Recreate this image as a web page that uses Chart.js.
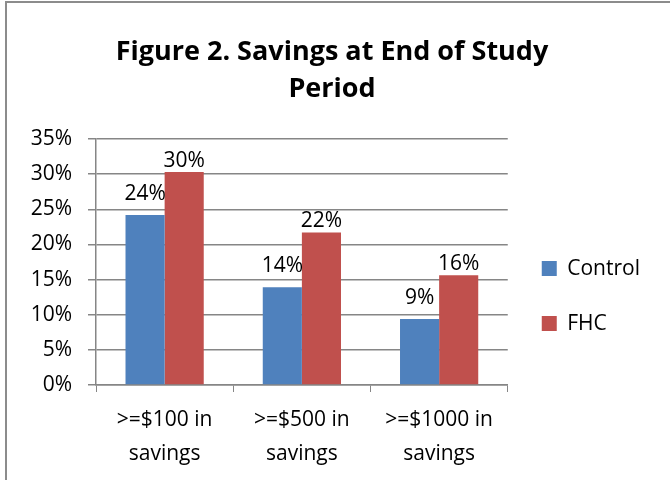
<!DOCTYPE html>
<html>
<head>
<meta charset="utf-8">
<script src="https://cdn.jsdelivr.net/npm/chart.js@4/dist/chart.umd.min.js"></script>
<style>
	html, body { margin: 0; padding: 0; background: #fff; }
	#wrap { position: relative; width: 670px; height: 480px; }
	#frame { position: absolute; left: 5px; top: 1px; width: 680px; height: 490px; border: 2px solid #8c8c8c; box-sizing: border-box; pointer-events: none; }
	canvas { position: absolute; left: 0; top: 0; }
</style>
</head>
<body>
<div id="wrap">
	<canvas id="chart" width="670" height="480"></canvas>
	<div id="frame"></div>
</div>
<script>
const categories = [[">=$100 in", "savings"], [">=$500 in", "savings"], [">=$1000 in", "savings"]];
const control = [24.2, 13.9, 9.4];
const fhc = [30.3, 21.7, 15.6];
const tickValues = [0, 5, 10, 15, 20, 25, 30, 35];

const font = "'Open Sans', sans-serif";
const gridGray = "#868686";

// draws the rounded value above each bar
const barLabels = {
	id: "barLabels",
	afterDatasetsDraw(chart) {
		const c = chart.ctx;
		c.save();
		c.font = "21px " + font;
		c.fillStyle = "#000";
		c.textAlign = "center";
		c.textBaseline = "alphabetic";
		chart.data.datasets.forEach((ds, i) => {
			const gap = i === 0 ? 15 : 5;
			chart.getDatasetMeta(i).data.forEach((bar, j) => {
				c.fillText(Math.round(ds.data[j]) + "%", bar.x, bar.y - gap);
			});
		});
		c.restore();
	}
};

new Chart(document.getElementById("chart"), {
	type: "bar",
	data: {
		labels: categories,
		datasets: [
			{ label: "Control", data: control, backgroundColor: "#4F81BD" },
			{ label: "FHC", data: fhc, backgroundColor: "#C0504D" }
		]
	},
	options: {
		responsive: false,
		animation: false,
		layout: { padding: { left: 14, right: 20, top: 8, bottom: 10 } },
		datasets: { bar: { categoryPercentage: 0.57, barPercentage: 1 } },
		plugins: {
			title: {
				display: true,
				text: ["Figure 2. Savings at End of Study", "Period"],
				color: "#000",
				font: { family: font, size: 27, weight: "bold", lineHeight: 1.37 },
				padding: { top: 26, bottom: 31 }
			},
			legend: {
				position: "right",
				title: { display: true, text: " ", font: { size: 1 }, padding: { top: 113, bottom: 0 } },
				labels: {
					color: "#000",
					font: { family: font, size: 21 },
					boxWidth: 15,
					boxHeight: 15,
					padding: 34
				}
			},
			tooltip: { enabled: false }
		},
		scales: {
			x: {
				grid: { drawOnChartArea: false, color: gridGray, tickLength: 7 },
				border: { color: gridGray, width: 1.5 },
				ticks: { color: "#000", font: { family: font, size: 21, lineHeight: 1.62 }, maxRotation: 0, padding: 11 },
				afterFit(scale) { scale.height = 85; }
			},
			y: {
				min: 0,
				max: 35,
				afterBuildTicks(scale) { scale.ticks = tickValues.map(v => ({ value: v })); },
				grid: { color: gridGray, lineWidth: 1.5, tickLength: 8 },
				border: { color: gridGray, width: 1.5 },
				ticks: { color: "#000", font: { family: font, size: 21 }, callback: v => v + "%", padding: 16 },
				afterFit(scale) { scale.width = 82; }
			}
		}
	},
	plugins: [barLabels]
});
</script>
</body>
</html>
